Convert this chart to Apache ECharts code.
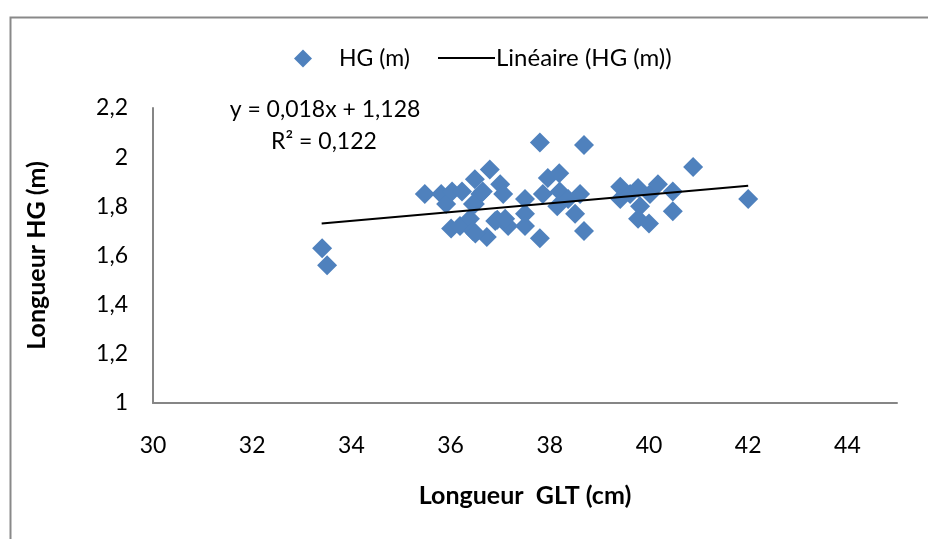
<!DOCTYPE html>
<html>
<head>
<meta charset="utf-8">
<script src="https://cdn.jsdelivr.net/npm/echarts@6/dist/echarts.min.js"></script>
<style>html,body{margin:0;padding:0;background:#fff}#c{width:928px;height:539px}</style>
</head>
<body>
<div id="c"></div>
<script>
// Data
const glt = [33.41,33.51,35.48,35.81,35.91,36.03,36.23,36.01,36.19,36.39,36.49,36.49,36.6,36.65,36.79,36.73,36.45,36.45,36.94,37.0,37.06,37.16,37.5,37.5,37.5,37.8,37.8,37.86,37.96,38.15,38.19,38.2,38.37,38.51,38.61,38.69,38.69,39.42,39.42,39.62,39.78,39.82,39.78,40.0,40.02,40.18,40.48,40.48,40.89,42.0,36.5,36.9,37.1];
const hg  = [1.63,1.56,1.85,1.85,1.81,1.86,1.86,1.71,1.72,1.75,1.91,1.81,1.85,1.86,1.95,1.675,1.70,1.81,1.745,1.89,1.85,1.72,1.83,1.77,1.72,2.06,1.67,1.85,1.915,1.80,1.935,1.86,1.83,1.77,1.85,2.05,1.70,1.88,1.83,1.85,1.875,1.80,1.75,1.73,1.85,1.89,1.86,1.78,1.96,1.83,1.69,1.74,1.75];
const trendX = [33.4, 42.0];
const trendY = [1.73, 1.884];
const xTicks = [30,32,34,36,38,40,42,44];
const yTicks = ['1','1,2','1,4','1,6','1,8','2','2,2'];

const FONT = 'Lato';
const FS = 23;
const chart = echarts.init(document.getElementById('c'), null, {renderer:'canvas'});
chart.setOption({
  animation:false,
  backgroundColor:'#fff',
  grid:{left:153,right:31,top:108,bottom:136},
  legend:[
    {left:289,top:42,itemWidth:18,itemHeight:18,textStyle:{fontFamily:FONT,fontSize:FS,color:'#000',padding:[0,0,0,22]},data:[{name:'HG (m)',icon:'diamond'}]},
    {left:433,top:41,itemWidth:57,itemHeight:2,itemGap:2,textStyle:{fontFamily:FONT,fontSize:24,color:'#000',padding:[0,0,0,-4]},data:[{name:'Linéaire (HG (m))',icon:'rect'}]}
  ],
  xAxis:{type:'value',min:30,max:45,interval:2,
    axisLine:{lineStyle:{color:'#868686',width:2}},axisTick:{show:false},splitLine:{show:false},
    axisLabel:{fontFamily:FONT,fontSize:FS,color:'#000',margin:31,
      formatter:v=> xTicks.indexOf(v)>=0 ? String(v) : ''},
    name:'Longueur  GLT (cm)',nameLocation:'middle',nameGap:80,
    nameTextStyle:{fontFamily:FONT,fontSize:25,fontWeight:'bold',color:'#000'}},
  yAxis:{type:'value',min:1,max:2.2,interval:0.2,
    axisLine:{show:true,lineStyle:{color:'#868686',width:2}},axisTick:{show:false},splitLine:{show:false},
    axisLabel:{fontFamily:FONT,fontSize:FS,color:'#000',margin:25,
      formatter:v=>{const i=Math.round((v-1)/0.2);return yTicks[i]!==undefined?yTicks[i]:'';}},
    name:'Longueur HG (m)',nameLocation:'middle',nameGap:104,
    nameTextStyle:{fontFamily:FONT,fontSize:25,fontWeight:'bold',color:'#000'}},
  graphic:[
    {type:'rect',left:8,top:15,shape:{width:940,height:540},style:{fill:'none',stroke:'#898989',lineWidth:2},silent:true},
    {type:'text',x:325,y:110,style:{text:'y = 0,018x + 1,128',fontFamily:FONT,fontSize:FS,fill:'#000',align:'center',verticalAlign:'middle'}},
    {type:'text',x:324,y:142,style:{text:'R² = 0,122',fontFamily:FONT,fontSize:FS,fill:'#000',align:'center',verticalAlign:'middle'}}
  ],
  series:[
    {name:'HG (m)',type:'scatter',symbol:'diamond',symbolSize:20,
     itemStyle:{color:'#4F81BD',opacity:1},
     data:glt.map((x,i)=>[x,hg[i]]),z:2},
    {name:'Linéaire (HG (m))',type:'line',symbol:'none',
     lineStyle:{color:'#000',width:2},itemStyle:{color:'#000'},
     data:trendX.map((x,i)=>[x,trendY[i]]),z:3}
  ]
});
</script>
</body>
</html>
